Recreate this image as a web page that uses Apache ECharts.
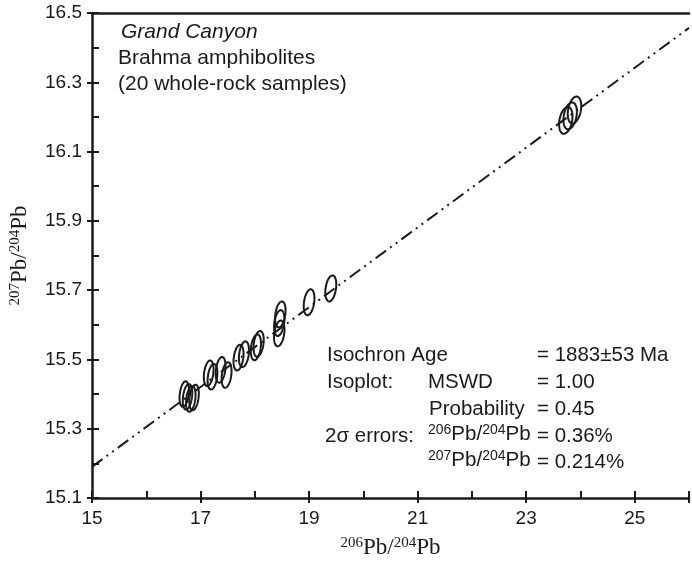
<!DOCTYPE html>
<html>
<head>
<meta charset="utf-8">
<script src="https://cdn.jsdelivr.net/npm/echarts@6/dist/echarts.min.js"></script>
<style>html,body{margin:0;padding:0;background:#fff}#c{width:692px;height:565px}</style>
</head>
<body>
<div id="c"></div>
<script>
// ---- data ----
const pb206_204 = [16.70, 16.76, 16.82, 16.88, 17.15, 17.22, 17.37, 17.48, 17.70, 17.80, 18.02, 18.07, 18.45, 18.45, 18.47, 19.00, 19.40, 23.73, 23.81, 23.89];
const pb207_204 = [15.400, 15.392, 15.386, 15.390, 15.460, 15.450, 15.470, 15.455, 15.505, 15.515, 15.535, 15.545, 15.575, 15.605, 15.630, 15.665, 15.705, 16.190, 16.203, 16.220];
const errPct206 = 0.36;   // 2 sigma, %
const errPct207 = 0.214;  // 2 sigma, %
const isochronX = [15, 26];
const isochronY = [15.19, 16.457];
const xMin = 15, xMax = 26;
const yMin = 15.1, yMax = 16.5;

const points = pb206_204.map((x, i) => [x, pb207_204[i]]);
const linePts = isochronX.map((x, i) => [x, isochronY[i]]);

const chart = echarts.init(document.getElementById('c'), null, {renderer: 'canvas'});
const sans = 'Liberation Sans, Arial, sans-serif';
const serif = 'Liberation Serif, Times New Roman, serif';
const ink = '#1a1a1a';

function pbName(a, b) {
  return '{s|' + a + '}{b|Pb/}{s|' + b + '}{b|Pb}';
}
const nameRich = {
  s: {fontFamily: serif, fontSize: 15, color: ink, verticalAlign: 'top', lineHeight: 24, padding: [0, 0, 9, 0]},
  b: {fontFamily: serif, fontSize: 23, color: ink, lineHeight: 24}
};

const rho = 0.3;
const ellScaleX = 1.45, ellScaleY = 1.12;
function renderEllipse(params, api) {
  const x0 = api.value(0), y0 = api.value(1);
  const ex = x0 * errPct206 / 100 * ellScaleX, ey = y0 * errPct207 / 100 * ellScaleY;
  const pts = [];
  const n = 48;
  for (let k = 0; k < n; k++) {
    const t = 2 * Math.PI * k / n;
    pts.push(api.coord([x0 + ex * Math.cos(t), y0 + ey * (rho * Math.cos(t) + Math.sqrt(1 - rho * rho) * Math.sin(t))]));
  }
  return {type: 'polygon', shape: {points: pts}, style: {fill: 'none', stroke: ink, lineWidth: 2}};
}

const FS = 20.5;
const txt = (x, y, s, extra) => ({type: 'text', x: x, y: y,
  style: Object.assign({text: s, font: FS + 'px ' + sans, fill: ink, align: 'left', verticalAlign: 'middle'}, extra || {})});
const supRich = {
  s: {fontFamily: sans, fontSize: 14, fill: ink, verticalAlign: 'top', padding: [0, 0, 7, 0]},
  b: {fontFamily: sans, fontSize: FS, fill: ink}
};
const pbTxt = (x, y, a, b) => ({type: 'text', x: x, y: y,
  style: {text: '{s|' + a + '}{b|Pb/}{s|' + b + '}{b|Pb}', rich: supRich, fill: ink, align: 'left', verticalAlign: 'middle'}});

const option = {
  animation: false,
  backgroundColor: '#fff',
  grid: {left: 89, right: 0, top: 13, bottom: 64},
  xAxis: [
    {type: 'value', min: xMin, max: xMax, interval: 1, position: 'bottom',
     axisLine: {show: true, onZero: false, lineStyle: {color: ink, width: 2.5}},
     axisTick: {show: true, inside: true, length: 7, lineStyle: {color: ink, width: 2}},
     axisLabel: {color: ink, fontFamily: sans, fontSize: 19, margin: 11,
       formatter: v => (Math.round(v) % 2 === 1 && v <= 25) ? String(v) : ''},
     splitLine: {show: false},
     name: pbName('206', '204'), nameLocation: 'middle', nameGap: 38,
     nameTextStyle: {rich: nameRich}},
    {type: 'value', min: xMin, max: xMax, interval: 2, position: 'bottom',
     axisLine: {show: false, onZero: false},
     axisTick: {show: true, inside: false, length: 5, lineStyle: {color: ink, width: 2}},
     axisLabel: {show: false}, splitLine: {show: false}},
    {type: 'value', min: xMin, max: xMax, position: 'top',
     axisLine: {show: true, onZero: false, lineStyle: {color: ink, width: 2.5}},
     axisTick: {show: false}, axisLabel: {show: false}, splitLine: {show: false}}
  ],
  yAxis: [
    {type: 'value', min: yMin, max: yMax, interval: 0.1, position: 'left',
     axisLine: {show: true, onZero: false, lineStyle: {color: ink, width: 2.5}},
     axisTick: {show: true, inside: true, length: 7, lineStyle: {color: ink, width: 2}},
     axisLabel: {color: ink, fontFamily: sans, fontSize: 19, margin: 10,
       formatter: v => (Math.round(v * 10) % 2 === 1) ? v.toFixed(1) : ''},
     splitLine: {show: false},
     name: pbName('207', '204'), nameLocation: 'middle', nameGap: 60, nameRotate: 90,
     nameTextStyle: {rich: nameRich}},
    {type: 'value', min: yMin, max: yMax, interval: 0.2, position: 'left',
     axisLine: {show: false, onZero: false},
     axisTick: {show: true, inside: false, length: 5, lineStyle: {color: ink, width: 2}},
     axisLabel: {show: false}, splitLine: {show: false}}
  ],
  series: [
    {type: 'line', data: linePts, symbol: 'none', xAxisIndex: 0, yAxisIndex: 0, clip: true,
     lineStyle: {color: ink, width: 2, type: [13, 5, 2, 5, 2, 5]}, silent: true, z: 1},
    {type: 'custom', data: points, renderItem: renderEllipse, xAxisIndex: 0, yAxisIndex: 0, clip: true, z: 3}
  ],
  graphic: [
    txt(121, 32, 'Grand Canyon', {font: 'italic 21px ' + sans}),
    txt(118, 58, 'Brahma amphibolites', {font: '21px ' + sans}),
    txt(118, 84, '(20 whole-rock samples)', {font: '21px ' + sans}),
    txt(327, 355, 'Isochron Age'),
    txt(537, 355, '= 1883±53 Ma'),
    txt(327, 382, 'Isoplot:'),
    txt(428, 382, 'MSWD'),
    txt(537, 382, '= 1.00'),
    txt(429, 409, 'Probability'),
    txt(537, 409, '= 0.45'),
    txt(325, 436, '2σ errors:'),
    pbTxt(428, 434, '206', '204'),
    txt(537, 436, '= 0.36%'),
    pbTxt(428, 460, '207', '204'),
    txt(537, 462, '= 0.214%')
  ]
};
chart.setOption(option);
</script>
</body>
</html>
